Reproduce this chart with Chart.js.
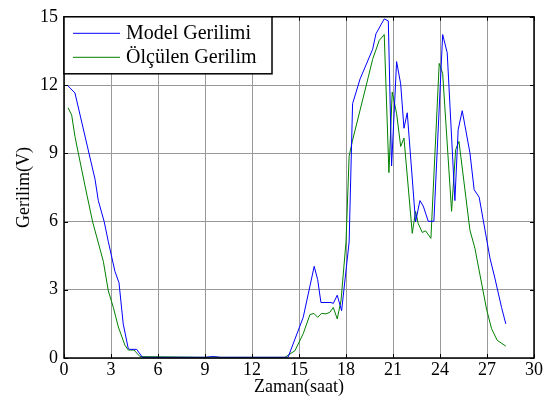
<!DOCTYPE html>
<html>
<head>
<meta charset="utf-8">
<script src="https://cdn.jsdelivr.net/npm/chart.js@4.4.0/dist/chart.umd.min.js"></script>
<style>
  html, body { margin: 0; padding: 0; background: #fff; }
  #wrap { width: 544px; height: 407px; }
</style>
</head>
<body>
<div id="wrap"><canvas id="grafik" width="544" height="407"></canvas></div>
<script>
// zaman (saat) ve gerilim (V) degerleri
const modelX = [0.2, 0.7, 1.98, 2.19, 2.57, 2.83, 3.25, 3.51, 3.78, 4.1, 4.2, 4.47, 4.64, 5.0, 9.0, 9.5, 10.0, 14.3,
  15.27, 15.97, 16.19, 16.4, 17.04, 17.19, 17.44, 17.72, 18.2, 18.42, 18.9, 19.7, 19.91, 20.44, 20.7, 20.91,
  21.23, 21.49, 21.7, 21.91, 22.44, 22.72, 22.93, 23.25, 23.61, 24.17, 24.46, 24.95, 25.16, 25.42, 25.91,
  26.18, 26.5, 27.19, 27.5, 27.93, 28.2];
const modelY = [12.0, 11.65, 7.86, 6.92, 5.98, 5.11, 3.81, 3.31, 1.5, 0.42, 0.38, 0.38, 0.38, 0.03, 0.03, 0.06, 0.03, 0.03,
  1.79, 4.03, 3.45, 2.44, 2.44, 2.4, 2.76, 2.08, 5.1, 11.18, 12.27, 13.57, 14.25, 14.91, 14.82, 8.44,
  13.03, 12.05, 10.1, 10.78, 5.98, 6.92, 6.68, 6.01, 6.01, 14.22, 13.42, 6.92, 10.04, 10.87, 9.02,
  7.4, 7.07, 4.39, 3.52, 2.22, 1.5];

const olculenX = [0.26, 0.49, 0.7, 0.91, 1.34, 1.83, 2.51, 2.83, 3.15, 3.47, 3.89, 4.1, 4.47, 4.85, 9.0, 9.5, 10.0, 14.1,
  14.74, 15.27, 15.7, 15.95, 16.19, 16.45, 16.72, 16.97, 17.19, 17.44, 17.68, 18.0, 18.2, 18.4, 19.42, 19.7,
  20.12, 20.44, 20.74, 20.95, 21.23, 21.49, 21.7, 22.23, 22.44, 22.61, 22.87, 23.08, 23.42, 23.95, 24.17,
  24.74, 25.0, 25.21, 25.91, 26.23, 26.97, 27.29, 27.65, 28.2];
const olculenY = [11.0, 10.68, 9.74, 9.02, 7.57, 5.98, 4.25, 2.95, 2.22, 1.36, 0.56, 0.35, 0.35, 0.06, 0.03, 0.05, 0.03, 0.03,
  0.32, 1.07, 1.91, 1.96, 1.79, 1.96, 1.94, 2.01, 2.22, 1.72, 2.51, 5.1, 8.87, 9.52, 12.34, 13.13,
  13.96, 14.22, 8.15, 11.69, 10.75, 9.3, 9.67, 5.48, 6.45, 5.91, 5.52, 5.59, 5.26, 12.95, 12.51,
  6.45, 9.16, 9.52, 5.62, 4.82, 2.15, 1.29, 0.78, 0.52];

const xTicks = [0, 3, 6, 9, 12, 15, 18, 21, 24, 27, 30];
const yTicks = [0, 3, 6, 9, 12, 15];
const seriesNames = ["Model Gerilimi", "Ölçülen Gerilim"];

const FONT = "'Liberation Serif', 'Times New Roman', serif";

const toPoints = (xs, ys) => xs.map((x, i) => ({ x: x, y: ys[i] }));

// cerceve, iceri bakan tik cizgileri ve lejant
const cercevePlugin = {
  id: "cerceve",
  afterDatasetsDraw(chart) {
    const { ctx, chartArea: a, scales } = chart;
    ctx.save();
    ctx.strokeStyle = "#000";
    ctx.lineWidth = 1;
    const t = 4;
    ctx.beginPath();
    xTicks.forEach((v) => {
      const px = Math.round(scales.x.getPixelForValue(v)) + 0.5;
      ctx.moveTo(px, a.bottom); ctx.lineTo(px, a.bottom - t);
      ctx.moveTo(px, a.top); ctx.lineTo(px, a.top + t);
    });
    yTicks.forEach((v) => {
      const py = Math.round(scales.y.getPixelForValue(v)) + 0.5;
      ctx.moveTo(a.left, py); ctx.lineTo(a.left + t, py);
      ctx.moveTo(a.right, py); ctx.lineTo(a.right - t, py);
    });
    ctx.stroke();
    ctx.lineWidth = 1.5;
    ctx.strokeRect(a.left, a.top, a.right - a.left, a.bottom - a.top);

    const lx = a.left, ly = a.top, lw = 208, lh = 57;
    ctx.fillStyle = "#fff";
    ctx.fillRect(lx, ly, lw, lh);
    ctx.strokeRect(lx, ly, lw, lh);
    ctx.font = "20px " + FONT;
    ctx.textBaseline = "middle";
    chart.data.datasets.forEach((ds, i) => {
      const yy = ly + 16 + i * 24;
      ctx.strokeStyle = ds.borderColor;
      ctx.lineWidth = 1;
      ctx.beginPath();
      ctx.moveTo(lx + 9, yy + 0.5);
      ctx.lineTo(lx + 56, yy + 0.5);
      ctx.stroke();
      ctx.fillStyle = "#000";
      ctx.fillText(ds.label, lx + 62, yy + 1);
    });
    ctx.restore();
  },
};

new Chart(document.getElementById("grafik"), {
  type: "scatter",
  data: {
    datasets: [
      {
        label: seriesNames[0],
        data: toPoints(modelX, modelY),
        showLine: true,
        borderColor: "#0000ff",
        borderWidth: 1,
        pointRadius: 0,
        tension: 0,
      },
      {
        label: seriesNames[1],
        data: toPoints(olculenX, olculenY),
        showLine: true,
        borderColor: "#008000",
        borderWidth: 1,
        pointRadius: 0,
        tension: 0,
      },
    ],
  },
  options: {
    responsive: false,
    animation: false,
    layout: { padding: { top: 12, right: 10, left: 0, bottom: 0 } },
    plugins: {
      legend: { display: false },
      tooltip: { enabled: false },
    },
    scales: {
      x: {
        type: "linear",
        min: 0,
        max: 30,
        afterBuildTicks: (s) => { s.ticks = xTicks.map((v) => ({ value: v })); },
        afterFit: (s) => { s.height = 49; },
        grid: { color: "#999", lineWidth: 1, drawTicks: false },
        border: { display: false },
        ticks: { color: "#000", padding: 1, font: { family: FONT, size: 18 } },
        title: {
          display: true,
          text: "Zaman(saat)",
          color: "#000",
          padding: { top: 0, bottom: 9 },
          font: { family: FONT, size: 18 },
        },
      },
      y: {
        type: "linear",
        min: 0,
        max: 15,
        afterBuildTicks: (s) => { s.ticks = yTicks.map((v) => ({ value: v })); },
        afterFit: (s) => { s.width = 64; },
        grid: { color: "#999", lineWidth: 1, drawTicks: false },
        border: { display: false },
        ticks: { color: "#000", padding: 6, font: { family: FONT, size: 18 } },
        title: {
          display: true,
          text: "Gerilim(V)",
          color: "#000",
          padding: { top: 13, bottom: 0 },
          font: { family: FONT, size: 18 },
        },
      },
    },
  },
  plugins: [cercevePlugin],
});
</script>
</body>
</html>
